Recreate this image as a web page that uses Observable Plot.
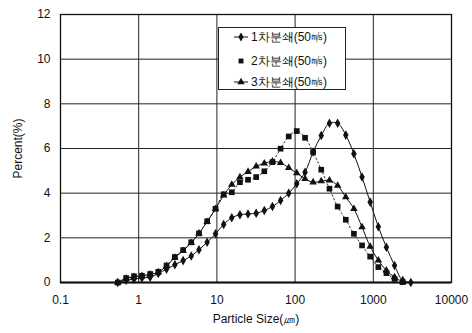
<!DOCTYPE html>
<html><head><meta charset="utf-8">
<script src="https://cdn.jsdelivr.net/npm/d3@7"></script>
<script src="https://cdn.jsdelivr.net/npm/@observablehq/plot@0.6"></script>
<style>
body{margin:0;background:#fff;font-family:"Liberation Sans",Arial,sans-serif;}
#wrap{position:relative;width:472px;height:333px;}
#legend{position:absolute;left:218px;top:27px;width:128px;height:63px;background:#fff;border:1px solid #222;box-sizing:border-box;font-size:12px;color:#111;}
#legend .row{position:absolute;left:0;height:14px;display:flex;align-items:center;white-space:nowrap;}
#legend svg{display:block}
</style></head><body>
<div id="wrap"><div id="chart"></div><div id="legend"></div></div>
<script>
const sizes = [0.54,0.69,0.87,1.1,1.4,1.78,2.27,2.9,3.7,4.7,5.9,7.5,9.6,12.2,15.5,19.7,25,31.8,40.4,51.3,65.2,82.8,105,134,170,216,275,350,445,565,718,912,1160,1470,1870,2380,3020];
const s1 = [0,0.1,0.15,0.2,0.24,0.4,0.6,0.8,0.98,1.19,1.47,1.8,2.18,2.6,2.9,3.03,3.07,3.1,3.22,3.4,3.67,4.0,4.42,4.94,5.84,6.58,7.13,7.13,6.6,5.76,4.72,3.6,2.5,1.58,0.76,0.09,0.0];
const s2 = [0,0.2,0.28,0.3,0.38,0.48,0.76,1.14,1.45,1.8,2.2,2.74,3.3,3.95,4.04,4.49,4.6,4.72,4.98,5.39,5.99,6.54,6.78,6.48,5.84,5.05,4.2,3.4,2.81,2.18,1.66,1.16,0.69,0.42,0.16,0.02,null];
const s3 = [0,0.18,0.25,0.3,0.36,0.46,0.74,1.12,1.42,1.78,2.2,2.72,3.3,3.9,4.38,4.72,4.96,5.2,5.34,5.42,5.36,5.13,4.9,4.64,4.49,4.54,4.57,4.34,3.82,3.3,2.48,1.61,0.99,0.54,0.24,0.02,null];
const seriesNames = ["1차분쇄(50㎧)","2차분쇄(50㎧)","3차분쇄(50㎧)"];
const xTicks = [0.1,1,10,100,1000,10000];
const xTickLabels = ["0.1","1","10","100","1000","10000"];
const yTicks = [0,2,4,6,8,10,12];

const mk = (vals) => sizes.map((x,i)=>({x, y: vals[i]})).filter(d=>d.y!=null);
const data1 = mk(s1), data2 = mk(s2), data3 = mk(s3);
const fmtX = (d)=>xTickLabels[xTicks.indexOf(d)];

const chart = Plot.plot({
  width:472, height:333,
  marginLeft:60, marginRight:21, marginTop:14, marginBottom:51,
  style:{fontFamily:"Liberation Sans, Arial, sans-serif", fontSize:"12px", color:"#111", background:"#fff"},
  x:{type:"log", domain:[0.1,10000]},
  y:{domain:[0,12]},
  marks:[
    Plot.ruleX(xTicks,{stroke:"#222", strokeWidth:1}),
    Plot.ruleY(yTicks,{stroke:"#222", strokeWidth:1}),
    Plot.frame({stroke:"#111", strokeWidth:1.3}),
    Plot.ruleY([0],{stroke:"#111", strokeWidth:2}),
    Plot.line(data1,{x:"x",y:"y",curve:"catmull-rom",stroke:"#111",strokeWidth:1}),
    Plot.line(data2,{x:"x",y:"y",curve:"catmull-rom",stroke:"#333",strokeWidth:1,strokeDasharray:"1.5,2.5"}),
    Plot.line(data3,{x:"x",y:"y",curve:"catmull-rom",stroke:"#111",strokeWidth:1}),
    Plot.dot(data1,{x:"x",y:"y",symbol:"diamond",r:2.9,fill:"#111",stroke:"none"}),
    Plot.dot(data2,{x:"x",y:"y",symbol:"square",r:3.2,fill:"#111",stroke:"none"}),
    Plot.dot(data3,{x:"x",y:"y",symbol:"triangle",r:2.8,fill:"#111",stroke:"none"}),
    Plot.axisX({ticks:xTicks, tickFormat:fmtX, tickSize:0, tickPadding:13, fontSize:12, label:"Particle Size(㎛)", labelAnchor:"center", labelArrow:"none", labelOffset:40}),
    Plot.axisY({ticks:yTicks, tickSize:0, tickPadding:10, fontSize:12, label:"Percent(%)", labelAnchor:"center", labelArrow:"none", labelOffset:47})
  ]
});
document.getElementById("chart").appendChild(chart);

// legend
const lg = document.getElementById("legend");
const syms = [d3.symbolDiamond, d3.symbolSquare, d3.symbolTriangle];
const withLine = [true,false,true];
const rowTops = [2,26,47];
seriesNames.forEach((name,i)=>{
  const row = document.createElement("div");
  row.className="row"; row.style.top = rowTops[i]+"px"; row.style.left="14px";
  const svg = d3.create("svg").attr("width",16).attr("height",14);
  if(withLine[i]) svg.append("line").attr("x1",1).attr("x2",15).attr("y1",7).attr("y2",7).attr("stroke","#111").attr("stroke-width",1);
  svg.append("path").attr("d",d3.symbol(syms[i], 24)()).attr("transform","translate(8,7)").attr("fill","#111");
  row.appendChild(svg.node());
  const t = document.createElement("span"); t.textContent = name; t.style.marginLeft="2px";
  row.appendChild(t);
  lg.appendChild(row);
});
</script>
</body></html>
